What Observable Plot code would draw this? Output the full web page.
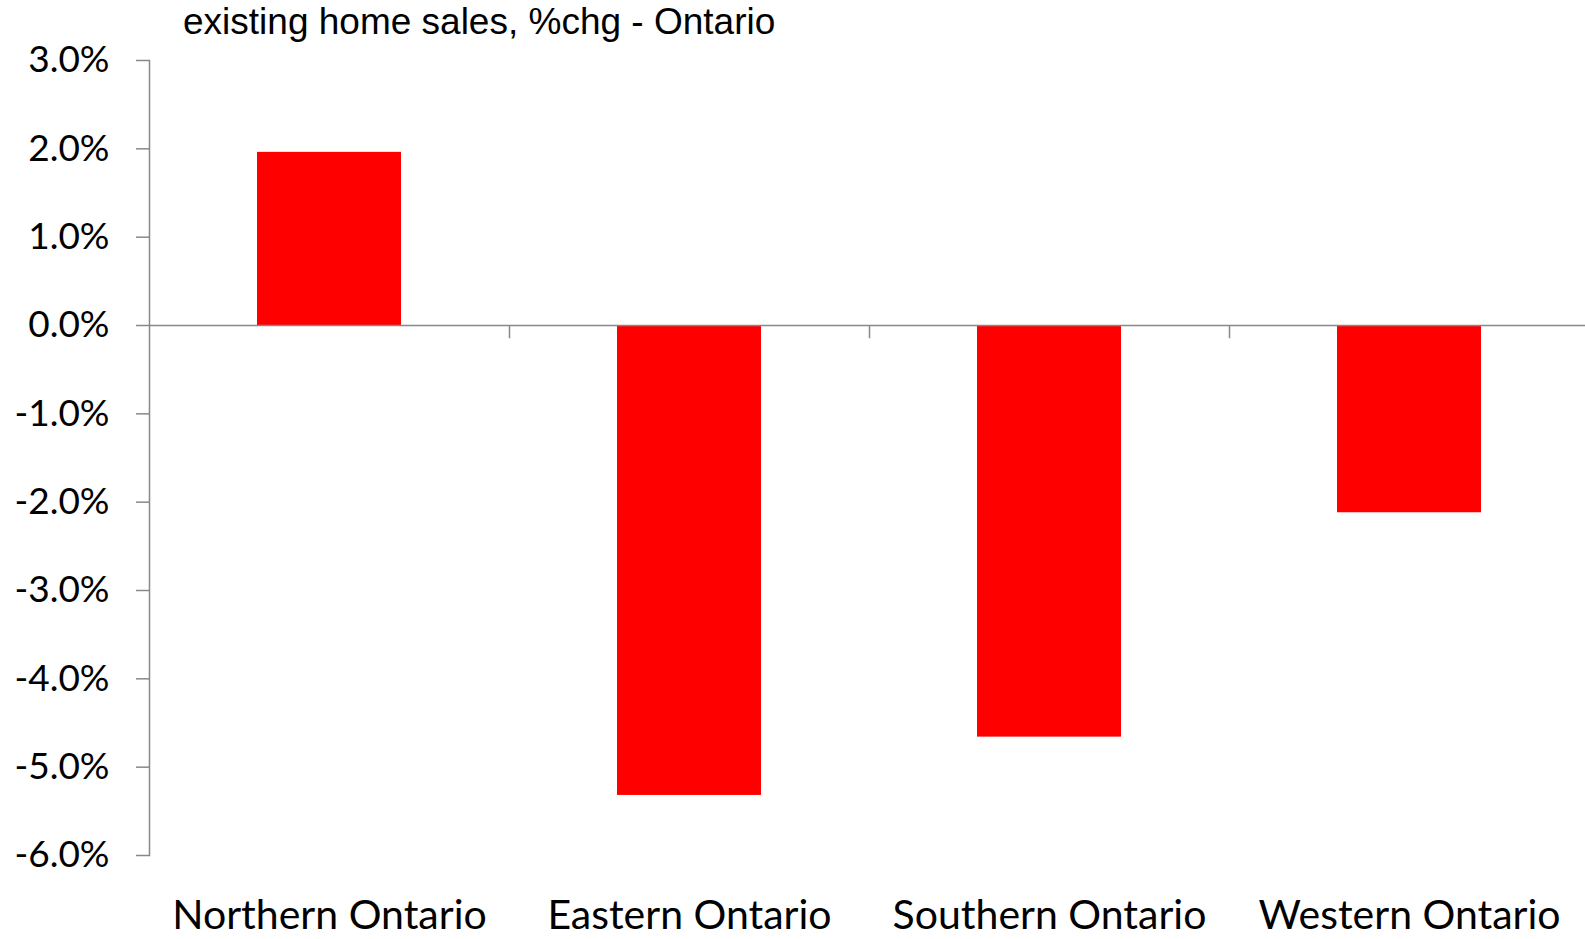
<!DOCTYPE html>
<html>
<head>
<meta charset="utf-8">
<script src="https://cdn.jsdelivr.net/npm/d3@7"></script>
<script src="https://cdn.jsdelivr.net/npm/@observablehq/plot@0.6"></script>
<style>
  html, body { margin: 0; padding: 0; background: #fff; overflow: hidden; }
  #wrap { position: relative; width: 1585px; height: 939px; }
  #title { position: absolute; left: 183px; top: 1px; font-family: "Liberation Sans", Arial, sans-serif; font-size: 37px; color: #000; white-space: nowrap; }
  #chart svg { display: block; overflow: visible; }
</style>
</head>
<body>
<div id="wrap">
  <div id="chart"></div>
  <div id="title">existing home sales, %chg - Ontario</div>
</div>
<script>
const regions = ["Northern Ontario", "Eastern Ontario", "Southern Ontario", "Western Ontario"];
const changes = [1.96, -5.32, -4.66, -2.12];
const yTicks = [-6, -5, -4, -3, -2, -1, 0, 1, 2, 3];
const yTickLabels = ["-6.0%", "-5.0%", "-4.0%", "-3.0%", "-2.0%", "-1.0%", "0.0%", "1.0%", "2.0%", "3.0%"];

const data = regions.map((r, i) => ({region: r, value: changes[i]}));
const boundaries = regions.slice(1);

const axisColor = "#888888";
const labelFont = "Lato, 'Open Sans', sans-serif";

const chart = Plot.plot({
  width: 1585,
  height: 939,
  marginTop: 60,
  marginBottom: 84,
  marginLeft: 149,
  marginRight: 0,
  x: {type: "band", domain: regions, range: [149, 1589], paddingInner: 0.6, paddingOuter: 0.3},
  y: {domain: [-6, 3], range: [855, 60]},
  style: {fontFamily: labelFont, color: "#000", background: "#fff"},
  marks: [
    Plot.barY(data, {x: "region", y: "value", fill: "#ff0000"}),
    Plot.frame({anchor: "left", stroke: axisColor, strokeWidth: 1.5}),
    Plot.ruleY([0], {stroke: axisColor, strokeWidth: 1.5}),
    Plot.ruleX(boundaries, {x: d => d, y1: 0, y2: -0.15, dx: -180, stroke: axisColor, strokeWidth: 1.5}),
    Plot.axisY({
      ticks: yTicks,
      tickFormat: d => yTickLabels[yTicks.indexOf(d)],
      tickSize: 13,
      tickPadding: 27,
      stroke: axisColor,
      strokeWidth: 1.5,
      fontSize: 37,
      label: null
    }),
    Plot.axisX({
      tickSize: 0,
      tickPadding: 44,
      fontSize: 41,
      label: null
    })
  ]
});
document.getElementById("chart").appendChild(chart);
</script>
</body>
</html>
